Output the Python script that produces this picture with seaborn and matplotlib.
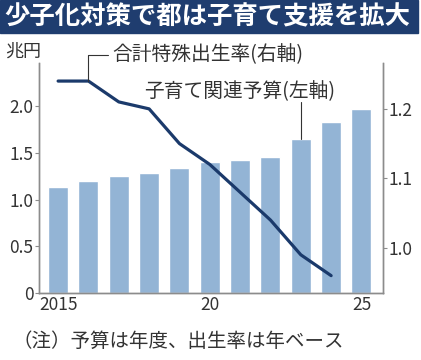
import matplotlib
matplotlib.use("Agg")
import matplotlib.pyplot as plt
import matplotlib.patches as mpatches
import seaborn as sns
import pandas as pd

# 子育て関連予算(兆円, 年度) と 合計特殊出生率(年)
years = [2015, 2016, 2017, 2018, 2019, 2020, 2021, 2022, 2023, 2024, 2025]
budget = [1.13, 1.20, 1.25, 1.28, 1.34, 1.40, 1.42, 1.45, 1.65, 1.83, 1.97]
rate_years = [2015, 2016, 2017, 2018, 2019, 2020, 2021, 2022, 2023, 2024]
rate = [1.24, 1.24, 1.21, 1.20, 1.15, 1.12, 1.08, 1.04, 0.99, 0.96]
xticks = [2015, 2020, 2025]
xtick_labels = ["2015", "20", "25"]
left_ticks = [0, 0.5, 1.0, 1.5, 2.0]
left_labels = ["0", "0.5", "1.0", "1.5", "2.0"]
right_ticks = [1.0, 1.1, 1.2]

sns.set_style("white")
plt.rcParams['font.family'] = ['Noto Sans CJK JP', 'DejaVu Sans']

BAR = "#93b4d5"
LINE = "#1b3a6b"
NAVY = "#1f3d6f"
TXT = "#333333"
GRAY = "#8c8c8c"

df_b = pd.DataFrame({"year": years, "budget": budget})
df_r = pd.DataFrame({"year": rate_years, "rate": rate})

fig = plt.figure(figsize=(4.21, 3.6), dpi=100)
ax = fig.add_axes([39 / 421, 1 - 293 / 360, 344 / 421, 230 / 360])

sns.barplot(data=df_b, x="year", y="budget", native_scale=True, width=0.66,
            color=BAR, saturation=1, ax=ax)
ax.set_xlim(2014.37, 2025.71)
ax.set_ylim(0, 2.46)
ax.set_xlabel("")
ax.set_ylabel("")
ax.set_xticks(xticks)
ax.set_xticklabels(xtick_labels)
ax.set_yticks(left_ticks)
ax.set_yticklabels(left_labels)
ax.tick_params(axis="x", length=0, labelsize=12.5, colors=TXT, pad=2)
ax.tick_params(axis="y", length=3, width=0.8, color=GRAY, labelsize=12.5,
               labelcolor=TXT, pad=1)

ax2 = ax.twinx()
sns.lineplot(data=df_r, x="year", y="rate", color=LINE, linewidth=2.3, ax=ax2)
ax2.set_ylim(0.935, 1.266)
ax2.set_yticks(right_ticks)
ax2.set_yticklabels(["1.0", "1.1", "1.2"])
ax2.set_ylabel("")
ax2.tick_params(axis="y", length=3, width=0.8, color=GRAY, labelsize=12.5,
                labelcolor=TXT, pad=1)

for a in (ax, ax2):
    a.spines["top"].set_visible(False)
    for s in ("left", "right", "bottom"):
        a.spines[s].set_color(GRAY)
        a.spines[s].set_linewidth(1.0)

# 注記の引き出し線
ax2.plot([rate_years[1], rate_years[1], 2016.65], [rate[1], 1.278, 1.278],
         color=TXT, linewidth=0.8, clip_on=False)
ax2.text(2016.8, 1.278, "合計特殊出生率(右軸)", fontsize=14.2, color=TXT,
         va="center", ha="left", clip_on=False)
ax.plot([years[8], years[8]], [budget[8], 2.045], color=TXT, linewidth=0.8)
ax.text(2017.85, 2.15, "子育て関連予算(左軸)", fontsize=14.2, color=TXT,
        va="center", ha="left")

# タイトル帯
fig.patches.append(mpatches.Rectangle((0, 1 - 33 / 360), 418 / 421, 33 / 360,
                                      transform=fig.transFigure, color=NAVY))
fig.text(4 / 421, 1 - 17 / 360, "少子化対策で都は子育て支援を拡大",
         fontsize=18.3, fontweight="bold", color="white", va="center", ha="left")
fig.text(5 / 421, 1 - 52 / 360, "兆円", fontsize=13, color=TXT,
         va="center", ha="left")
fig.text(12 / 421, 1 - 341 / 360, "（注）予算は年度、出生率は年ベース",
         fontsize=14, color=TXT, va="center", ha="left")

fig.savefig("out.png", dpi=100)
